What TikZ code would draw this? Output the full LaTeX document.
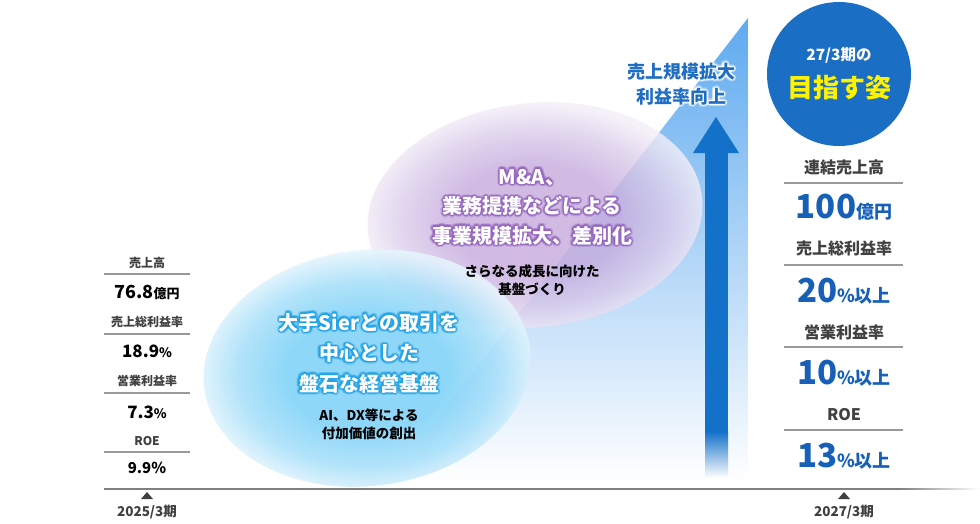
\documentclass[tikz,border=0pt]{standalone}
\usepackage{fontspec}
\setmainfont{Noto Sans CJK JP}
\usetikzlibrary{calc}
\definecolor{tri1}{HTML}{5FAAEF}
\definecolor{tri2}{HTML}{BBDAF7}
\definecolor{arrowblue}{HTML}{1471C9}
\definecolor{circblue}{HTML}{1A6EC3}
\definecolor{valblue}{HTML}{1760B8}
\definecolor{labgray}{HTML}{404040}
\definecolor{linegray}{HTML}{9A9A9A}
\definecolor{axisgray}{HTML}{808080}
\definecolor{markgray}{HTML}{404040}
\definecolor{goalyellow}{HTML}{FFF100}
\definecolor{bluein}{HTML}{7CD1F7}
\definecolor{bluemid}{HTML}{A6DFFA}
\definecolor{blueout}{HTML}{E5F5FD}
\definecolor{purpin}{HTML}{C6ABDD}
\definecolor{purpmid}{HTML}{DACBEA}
\definecolor{purpout}{HTML}{F3EEF8}
\definecolor{glowblue}{HTML}{22A3E6}
\definecolor{glowpurp}{HTML}{9666C0}
\definecolor{textblue}{HTML}{1F6EC4}
\pgfdeclareradialshading{blueell}{\pgfpoint{0bp}{0bp}}{color(0bp)=(bluein); color(12bp)=(bluein); color(19bp)=(bluemid); color(25bp)=(blueout); color(50bp)=(blueout)}
\pgfdeclareradialshading{purpell}{\pgfpoint{0bp}{0bp}}{color(0bp)=(purpin); color(12bp)=(purpin); color(19bp)=(purpmid); color(25bp)=(purpout); color(50bp)=(purpout)}
\newcommand\fsz[2]{\fontsize{#1}{#2}\selectfont}
\newcommand\glowtext[6]{%
  \foreach \gang in {0,30,...,330}{%
    \node[align=center,font=#5,text=#3,text opacity=0.25] at ($(#2)+(\gang:2.6)$) {#6};
    \node[align=center,font=#5,text=#3,text opacity=0.45] at ($(#2)+(\gang:1.3)$) {#6};
  }%
  \node[align=center,font=#5,text=#4] (#1) at (#2) {#6};
}
\tikzset{
  lab/.style={text=labgray,font=\fsz{12}{14}\bfseries,inner sep=0pt},
  rlab/.style={text=labgray,font=\fsz{16}{18}\bfseries,inner sep=0pt},
  lval/.style={text=black,font=\fsz{18}{20}\bfseries,inner sep=0pt},
  rval/.style={text=valblue,font=\fsz{33}{36}\bfseries,inner sep=0pt},
  sepline/.style={draw=linegray,line width=1.3pt},
  marker/.style={fill=markgray},
  period/.style={text=labgray,font=\fsz{13.5}{15}\bfseries,inner sep=0pt},
  sub/.style={text=black,font=\fsz{13.5}{18}\bfseries,align=center,inner sep=0pt},
}
\begin{document}
\begin{tikzpicture}[x=1pt,y=-1pt]
\useasboundingbox (0,0) rectangle (980,523);
\fill[white] (0,0) rectangle (980,523);
% background rising triangle
\shade[top color=tri1, middle color=tri2, bottom color=white] (748,18) -- (748,482) -- (388,482) -- cycle;
% ellipses
\shade[shading=purpell, opacity=0.8, rotate around={6:(535,215)}] (535,215) ellipse [x radius=168, y radius=112];
\shade[shading=blueell, opacity=0.85, rotate around={7:(367,368)}] (367,368) ellipse [x radius=164, y radius=118];
% growth arrow
\fill[arrowblue] (705,152) rectangle (728,432);
\shade[top color=arrowblue, bottom color=white] (705,431.5) rectangle (728,478);
\fill[arrowblue] (693,153) -- (739,153) -- (716,117) -- cycle;
% arrow text
\glowtext{growth}{681,84}{white}{textblue}{{\fsz{18}{25}\bfseries}}{売上規模拡大\\利益率向上}
% ellipse texts
\glowtext{purptitle}{532,207}{glowpurp}{white}{{\fsz{20}{29.5}\bfseries}}{M\&A、\\業務提携などによる\\事業規模拡大、差別化}
\node[sub] (purpsub) at (532,280) {さらなる成長に向けた\\基盤づくり};
\glowtext{bluetitle}{369,353}{glowblue}{white}{{\fsz{20}{30.5}\bfseries}}{大手Sierとの取引を\\中心とした\\盤石な経営基盤}
\node[sub] (bluesub) at (369,424) {AI、DX等による\\付加価値の創出};
% axis
\draw[axisgray, line width=1.3pt] (104,489) -- (900,489);
\shade[left color=axisgray, right color=white] (899.5,488.35) rectangle (980,489.65);
\fill[marker] (141,499) -- (153,499) -- (147,492) -- cycle;
\fill[marker] (838,499) -- (850,499) -- (844,492) -- cycle;
\node[period] (p25) at (147,512) {2025/3期};
\node[period] (p27) at (844,512) {2027/3期};
% left column
\node[lab] (l1) at (147,263) {売上高};
\draw[sepline] (104,274) -- (190,274);
\node[lval] (v1) at (147,292) {76.8{\fsz{13}{15}億円}};
\node[lab] (l2) at (147,322) {売上総利益率};
\draw[sepline] (104,334) -- (190,334);
\node[lval,font=\fsz{17}{19}\bfseries] (v2) at (147,351) {18.9{\fsz{13}{15}\%}};
\node[lab] (l3) at (147,381) {営業利益率};
\draw[sepline] (104,393) -- (190,393);
\node[lval,font=\fsz{17}{19}\bfseries] (v3) at (147,412) {7.3{\fsz{13}{15}\%}};
\node[lab] (l4) at (147,441) {ROE};
\draw[sepline] (104,452) -- (190,452);
\node[lval,font=\fsz{15}{17}\bfseries] (v4) at (147,468) {9.9\%};
% right column
\fill[circblue] (839,74) circle [radius=72];
\node[text=white,font=\fsz{15.5}{18}\bfseries,inner sep=0pt] (goal1) at (839,55) {27/3期の};
\node[text=goalyellow,font=\fsz{26}{30}\bfseries,inner sep=0pt] (goal2) at (839,88) {目指す姿};
\node[rlab] (r1) at (844,167) {連結売上高};
\draw[sepline] (784,183) -- (903,183);
\node[rval] (rv1) at (844,207) {100{\fsz{18}{20}億円}};
\node[rlab] (r2) at (844,248) {売上総利益率};
\draw[sepline] (784,265) -- (903,265);
\node[rval] (rv2) at (844,291) {20{\fsz{18}{20}\%以上}};
\node[rlab] (r3) at (844,332) {営業利益率};
\draw[sepline] (784,347) -- (903,347);
\node[rval] (rv3) at (844,373) {10{\fsz{18}{20}\%以上}};
\node[rlab] (r4) at (844,415) {ROE};
\draw[sepline] (784,430) -- (903,430);
\node[rval] (rv4) at (844,456) {13{\fsz{18}{20}\%以上}};
\end{tikzpicture}
\end{document}
